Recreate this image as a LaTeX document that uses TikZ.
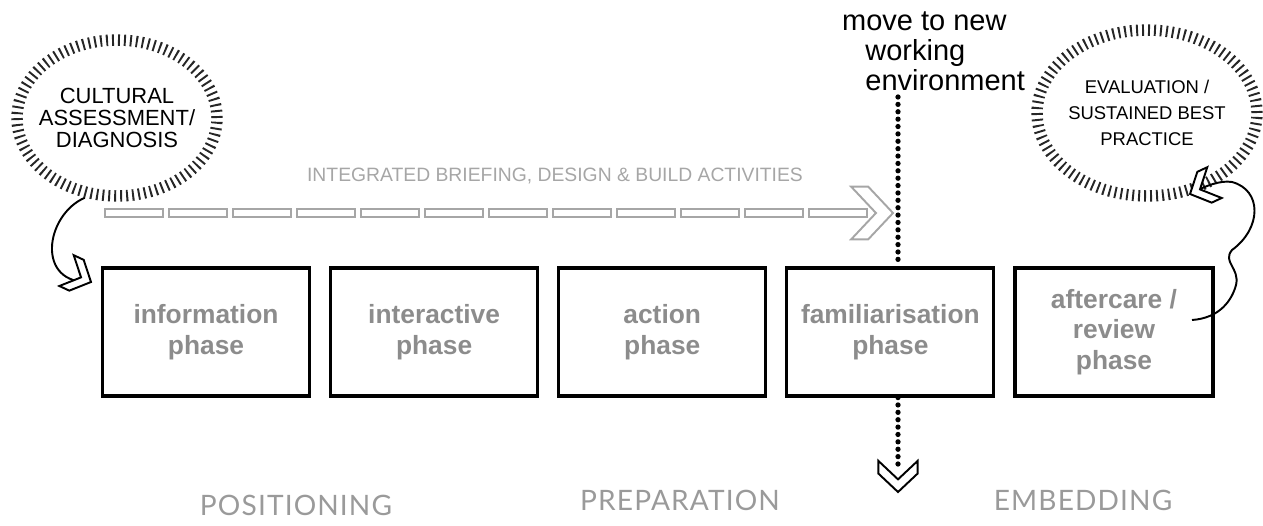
\documentclass[tikz,border=0pt]{standalone}
\usepackage{fontspec}
\setmainfont{Liberation Sans}
\newfontfamily\stagefont[LetterSpace=4]{Lato}
\usetikzlibrary{shapes.geometric, positioning}
\definecolor{boxgrey}{HTML}{8C8C8C}
\definecolor{briefgrey}{HTML}{A6A6A6}
\definecolor{stagegrey}{HTML}{9A9A9A}
\tikzstyle{phase} = [rectangle, minimum width=4.14cm, minimum height=2.56cm, text centered, align=center, draw=black, line width=1.8pt, text=boxgrey, font=\fontsize{15}{17.5}\selectfont\bfseries]
\tikzstyle{hatch} = [ellipse, draw=black!85, line width=6.5pt, dash pattern=on 1.1pt off 2.3pt, align=center, inner xsep=-10pt]
\tikzstyle{dotline} = [line width=3pt, line cap=round, dash pattern=on 0pt off 4.2pt]
\tikzstyle{brief} = [draw=briefgrey, line width=0.8pt, fill=white]
\tikzstyle{hook} = [line width=1.1pt]
\tikzstyle{stage} = [text=stagegrey, font=\stagefont\fontsize{16}{18}\selectfont]
\tikzset{chevron/.pic={\draw[line width=1.1pt, fill=white, line join=miter] (0,0) -- (-16,-17) -- (-27,-17) -- (-11,0) -- (-27,17) -- (-16,17) -- cycle;}}

\begin{document}
\begin{tikzpicture}[x=0.02cm, y=-0.02cm]
    \useasboundingbox (0,0) rectangle (1263,525);

    % Phases
    \node (info) [phase] at (206,332) {information\\phase};
    \node (interact) [phase, right=3.6mm of info] {interactive\\phase};
    \node (action) [phase, right=3.6mm of interact] {action\\phase};
    \node (famil) [phase, right=3.6mm of action] {familiarisation\\phase};
    \node (after) [phase, right=3.6mm of famil, minimum width=3.96cm] {aftercare /\\review\\phase};

    % Bubbles
    \node (assess) [hatch, minimum width=4cm, minimum height=3.12cm, font=\fontsize{12.5}{12.5}\selectfont] at (117,118) {CULTURAL\\ASSESSMENT/\\DIAGNOSIS};
    \node (evalu) [hatch, minimum width=4.4cm, minimum height=3.32cm, font=\fontsize{10.5}{15}\selectfont] at (1147,113) {EVALUATION /\\SUSTAINED BEST\\PRACTICE};
    \node (move) [align=left, anchor=north west, font=\fontsize{16.5}{17}\selectfont] at (836,6) {move to new\\\hspace*{0.8em}working\\\hspace*{0.8em}environment};

    % Move line
    \coordinate (envfoot) at (898,97);
    \coordinate (dotend) at (898,468);
    \coordinate (downtip) at (898,492);
    \draw [dotline] (envfoot) -- (envfoot |- famil.north);
    \draw [dotline] (envfoot |- famil.south) -- (dotend);
    \pic [rotate=-90, scale=1.15] at (downtip) {chevron};

    % Briefing arrow
    \node (brieflabel) [text=briefgrey, font=\fontsize{11}{13}\selectfont] at (555,176) {INTEGRATED BRIEFING, DESIGN \& BUILD ACTIVITIES};
    \foreach \i in {0,...,11}
        \draw [brief] ({105+64*\i},209) rectangle ++(58,8);
    \coordinate (brieftip) at (893,213);
    \pic [briefgrey, scale=1.55] at (brieftip) {chevron};

    % Hooks
    \coordinate (infohook) at (91,282);
    \draw [hook] (assess.-112) .. controls (45,215) and (35,285) .. (infohook);
    \pic [rotate=-25] at (infohook) {chevron};
    \coordinate (afterhook) at (1192,320);
    \coordinate (evaluhook) at (1190,194);
    \draw [hook] (afterhook) .. controls (1220,318) and (1232,300) .. (1236,285) .. controls (1240,268) and (1222,262) .. (1232,250) .. controls (1262,228) and (1262,190) .. (1232,182) .. controls (1220,180) and (1205,186) .. (evaluhook);
    \pic [rotate=205] at (evaluhook) {chevron};

    % Stages
    \node (posit) [stage] at (296,505) {POSITIONING};
    \node (prep) [stage] at (680,500) {PREPARATION};
    \node (embed) [stage] at (1083,500) {EMBEDDING};
\end{tikzpicture}
\end{document}
